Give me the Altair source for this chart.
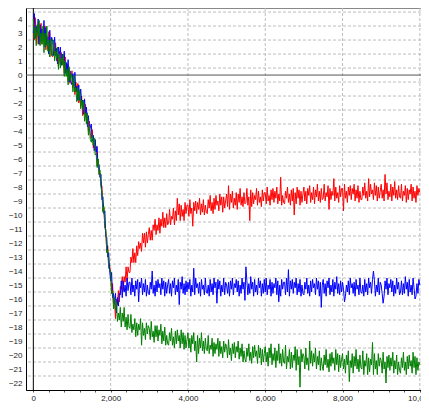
import altair as alt
import pandas as pd

# sample positions (every 25 units)
x_vals = list(range(0, 10001, 25))

red = [
    3.6, 2.5, 4.1, 2.7, 3.3, 2.2, 3.6, 2.7, 3.7, 2.2, 3.2, 2.5, 3.5, 1.8, 2.8, 1.9, 3.1, 1.3, 2.3, 1.4,
    1.3, 2.2, 1.5, 2.3, 1.0, 1.5, 0.6, 1.7, 0.8, 1.6, 0.8, 1.1, 0.1, 1.3, 0.2, 0.8, -0.5, 0.4, -0.6, -0.1,
    0.3, -0.9, -0.4, -1.4, -0.5, -1.2, -0.6, -2.0, -1.5, -2.2, -1.5, -2.9, -2.1, -2.8, -2.1, -3.5, -3.0, -4.0, -3.3, -4.3,
    -4.5, -3.9, -5.2, -4.9, -5.4, -5.1, -6.5, -6.0, -7.1, -7.0, -7.9, -7.9, -9.7, -9.5, -10.9, -11.2, -12.6, -12.2, -13.5, -13.6,
    -14.2, -15.6, -14.9, -16.3, -16.1, -17.4, -16.0, -16.4, -15.4, -16.2, -15.1, -15.3, -14.4, -15.4, -14.4, -14.8, -13.7, -14.7, -13.7, -14.1,
    -14.1, -13.0, -13.4, -12.4, -13.4, -12.7, -13.4, -12.2, -12.9, -11.9, -12.4, -12.0, -12.6, -11.3, -12.0, -11.3, -12.3, -11.2, -12.0, -11.4,
    -10.9, -11.8, -11.1, -11.8, -10.7, -11.1, -10.3, -11.4, -10.7, -11.1, -10.2, -11.3, -10.3, -10.8, -9.8, -10.9, -10.2, -10.9, -9.9, -10.7,
    -10.6, -9.6, -10.7, -10.1, -10.3, -9.5, -10.7, -9.7, -10.4, -8.8, -10.0, -9.2, -10.4, -9.3, -10.1, -9.6, -10.4, -9.1, -9.9, -9.3,
    -9.3, -10.1, -8.9, -9.9, -9.5, -10.8, -9.1, -9.7, -9.0, -9.9, -9.1, -9.6, -8.8, -10.0, -9.2, -9.8, -8.9, -10.0, -9.3, -9.8,
    -9.9, -8.9, -9.5, -8.6, -9.7, -9.1, -9.9, -8.8, -9.6, -8.6, -9.3, -9.0, -9.7, -8.5, -9.3, -8.7, -9.8, -8.7, -9.5, -9.0,
    -8.5, -9.4, -7.9, -9.6, -8.5, -9.1, -8.3, -9.5, -8.8, -9.3, -8.4, -9.6, -8.5, -9.1, -8.1, -9.3, -8.7, -9.4, -8.4, -9.2,
    -9.1, -8.1, -9.3, -8.7, -10.4, -8.2, -9.4, -8.4, -9.2, -8.6, -8.9, -8.1, -9.3, -8.3, -9.1, -8.7, -9.4, -8.2, -9.0, -8.4,
    -8.4, -9.2, -8.0, -9.0, -8.6, -9.3, -8.2, -8.9, -8.1, -9.1, -8.3, -8.8, -8.0, -9.2, -8.5, -9.0, -7.3, -9.3, -8.6, -9.1,
    -9.2, -8.3, -8.8, -8.0, -9.1, -8.5, -9.3, -8.2, -9.0, -8.1, -10.0, -8.4, -9.2, -8.0, -8.8, -8.2, -9.3, -8.3, -9.1, -8.5,
    -8.0, -9.0, -8.3, -9.2, -8.1, -8.6, -7.9, -9.1, -8.4, -8.9, -8.0, -9.2, -8.2, -8.7, -7.8, -9.0, -8.3, -9.1, -8.1, -8.9,
    -8.8, -7.8, -9.0, -8.4, -8.7, -7.9, -9.6, -8.1, -8.9, -8.3, -8.6, -7.4, -9.0, -8.0, -8.8, -8.4, -9.1, -7.9, -8.7, -8.1,
    -8.1, -9.7, -7.8, -8.8, -8.3, -9.1, -8.0, -8.6, -7.9, -8.9, -8.1, -8.5, -7.8, -9.0, -8.2, -8.8, -7.9, -9.1, -8.3, -8.9,
    -8.9, -8.0, -8.6, -7.7, -8.8, -8.3, -9.0, -7.4, -8.7, -7.8, -8.5, -8.2, -8.9, -7.7, -8.6, -7.9, -9.0, -8.0, -8.8, -8.3,
    -7.8, -8.8, -8.2, -9.0, -7.1, -8.5, -7.7, -8.9, -8.3, -8.7, -7.8, -9.0, -8.0, -8.6, -7.6, -8.8, -8.2, -8.9, -7.9, -8.7,
    -8.8, -7.8, -9.0, -8.3, -8.6, -7.9, -9.1, -8.1, -8.9, -8.2, -8.5, -7.8, -9.0, -8.0, -8.8, -8.3, -9.1, -7.9, -8.6, -8.1,
    -8.4,
]

blue = [
    3.0, 4.4, 2.6, 3.5, 3.0, 4.0, 2.2, 3.6, 2.4, 3.3, 2.8, 3.9, 2.0, 3.4, 2.2, 2.7, 1.5, 3.2, 2.0, 2.7,
    2.4, 1.4, 2.7, 1.4, 1.9, 0.8, 2.0, 1.2, 2.0, 0.7, 1.5, 0.9, 1.7, 0.1, 0.9, 0.1, 1.1, -0.5, 0.3, -0.5,
    -0.7, 0.1, -0.7, 0.2, -1.2, -0.8, -1.8, -0.7, -1.8, -1.0, -1.9, -1.8, -2.8, -1.7, -2.9, -2.3, -3.7, -2.9, -4.0, -3.7,
    -3.5, -4.7, -4.3, -5.4, -4.6, -5.5, -5.1, -6.6, -6.4, -7.3, -7.1, -8.9, -8.7, -9.9, -9.7, -11.5, -11.6, -13.0, -12.7, -14.0,
    -14.7, -14.1, -15.9, -15.6, -16.3, -15.6, -17.0, -15.9, -16.5, -15.6, -15.7, -14.7, -15.9, -14.7, -15.5, -15.0, -15.8, -14.5, -15.4, -14.8,
    -14.8, -15.7, -14.5, -15.5, -15.0, -15.8, -14.7, -15.3, -14.6, -16.2, -14.8, -15.2, -14.5, -15.7, -14.9, -15.5, -14.6, -15.8, -15.0, -15.6,
    -15.7, -14.8, -15.3, -14.0, -15.6, -15.0, -15.8, -14.7, -15.5, -14.6, -15.2, -14.9, -15.7, -14.5, -15.3, -14.7, -15.8, -14.8, -15.6, -15.0,
    -14.6, -15.6, -14.9, -15.8, -14.7, -15.2, -14.5, -15.7, -15.0, -15.5, -14.6, -16.4, -14.8, -15.3, -14.4, -15.6, -14.9, -15.7, -14.7, -15.5,
    -14.8, -15.3, -14.6, -15.8, -15.0, -15.5, -13.8, -15.7, -14.5, -15.2, -14.9, -15.6, -14.8, -15.8, -14.6, -15.3, -15.0, -15.7, -14.5, -15.5,
    -15.6, -15.0, -15.8, -14.6, -15.5, -14.9, -15.7, -14.5, -15.2, -14.8, -16.3, -14.6, -15.3, -14.7, -15.8, -15.0, -15.5, -14.5, -15.7, -14.8,
    -15.0, -15.6, -14.8, -15.8, -14.7, -15.3, -14.5, -15.7, -14.9, -15.2, -14.6, -15.5, -14.7, -15.8, -15.0, -15.6, -14.5, -15.3, -14.8, -16.1,
    -13.7, -14.7, -15.7, -14.9, -15.6, -14.4, -15.3, -14.8, -15.8, -14.6, -15.5, -15.0, -15.7, -14.5, -15.2, -14.7, -15.8, -14.9, -15.6, -14.6,
    -15.5, -14.5, -15.7, -15.0, -15.3, -14.6, -15.8, -14.8, -15.6, -14.9, -15.2, -14.5, -15.7, -14.7, -16.2, -15.0, -15.8, -14.6, -15.3, -14.8,
    -14.8, -15.7, -14.5, -15.5, -13.9, -15.8, -14.7, -15.3, -14.6, -15.6, -14.8, -15.2, -14.5, -15.7, -14.9, -15.5, -14.6, -15.8, -15.0, -15.6,
    -15.7, -14.8, -15.3, -14.5, -15.6, -15.0, -15.8, -14.7, -15.5, -14.6, -15.2, -14.9, -15.7, -14.5, -15.3, -14.7, -15.8, -14.8, -16.6, -15.0,
    -14.6, -15.6, -14.9, -15.8, -14.7, -15.2, -14.5, -15.7, -15.0, -15.5, -14.6, -15.8, -14.8, -15.3, -14.4, -15.6, -14.9, -15.7, -14.7, -15.5,
    -14.8, -15.3, -16.2, -15.8, -15.0, -15.5, -14.7, -15.7, -14.5, -15.2, -14.9, -15.6, -14.8, -15.8, -14.6, -15.3, -15.0, -15.7, -14.5, -15.5,
    -15.6, -15.0, -15.8, -14.6, -15.5, -14.9, -15.7, -14.5, -15.2, -14.8, -15.6, -14.6, -14.0, -14.7, -15.8, -15.0, -15.5, -14.5, -15.7, -14.8,
    -15.0, -15.6, -16.3, -15.8, -14.7, -15.3, -14.5, -15.7, -14.9, -15.2, -14.6, -15.5, -14.7, -15.8, -15.0, -15.6, -14.5, -15.3, -14.8, -15.7,
    -15.5, -14.7, -15.7, -14.9, -15.6, -14.4, -15.3, -14.8, -15.8, -14.6, -15.5, -15.0, -15.7, -14.5, -15.2, -16.0, -15.8, -14.9, -15.6, -14.6,
    -15.0,
]

green = [
    4.0, 2.6, 3.4, 2.1, 3.6, 2.8, 3.9, 2.1, 3.0, 2.2, 3.5, 1.6, 3.0, 2.1, 3.5, 1.7, 2.5, 1.3, 2.6, 1.4,
    1.4, 2.5, 1.0, 1.7, 1.2, 2.0, 0.4, 1.5, 0.5, 1.2, 0.7, 1.5, -0.1, 1.0, -0.1, 0.4, -0.7, 0.6, -0.4, 0.1,
    -0.2, -1.2, 0.0, -1.2, -0.9, -1.9, -0.9, -1.8, -1.1, -2.4, -1.8, -2.4, -1.8, -3.3, -2.7, -3.5, -2.7, -4.3, -3.7, -4.6,
    -4.8, -4.3, -5.0, -4.5, -5.7, -5.6, -6.6, -6.0, -7.1, -6.8, -8.0, -8.4, -9.8, -9.4, -10.9, -11.0, -12.7, -12.5, -13.8, -13.9,
    -14.0, -15.6, -15.4, -16.7, -15.9, -16.8, -16.2, -17.6, -17.0, -17.5, -16.6, -18.0, -17.0, -17.6, -16.6, -18.0, -17.3, -18.2, -17.1, -18.0,
    -18.1, -17.1, -18.4, -17.8, -18.2, -17.4, -18.7, -17.7, -18.6, -17.8, -18.2, -17.4, -19.3, -17.7, -18.6, -18.1, -18.9, -17.7, -18.5, -17.9,
    -18.1, -18.9, -17.6, -18.7, -18.3, -19.1, -17.9, -18.7, -17.9, -19.0, -18.2, -18.6, -17.8, -19.2, -18.3, -19.0, -18.0, -19.3, -18.6, -19.2,
    -19.3, -18.4, -19.0, -18.1, -19.3, -18.7, -19.5, -18.3, -19.2, -18.2, -19.0, -18.6, -19.5, -18.2, -19.2, -18.4, -19.6, -18.6, -19.5, -18.9,
    -18.4, -19.5, -18.8, -19.8, -18.6, -19.2, -18.4, -19.7, -19.0, -20.5, -18.6, -19.9, -18.8, -19.5, -18.4, -19.7, -19.0, -19.9, -18.8, -19.6,
    -19.7, -18.6, -19.9, -19.3, -19.6, -18.8, -20.1, -19.1, -19.9, -19.2, -19.6, -18.8, -20.1, -19.0, -19.9, -19.4, -20.2, -19.0, -19.8, -19.2,
    -19.4, -20.2, -18.9, -20.0, -19.5, -20.4, -19.2, -19.9, -19.1, -20.2, -19.4, -19.8, -19.0, -20.3, -19.5, -20.1, -19.2, -20.5, -19.7, -20.3,
    -20.5, -19.5, -20.1, -19.2, -20.4, -19.8, -20.6, -19.4, -20.2, -19.3, -20.1, -19.7, -20.6, -19.3, -20.2, -19.5, -20.7, -19.6, -20.5, -19.9,
    -19.4, -20.5, -19.8, -20.8, -19.5, -20.2, -19.2, -20.7, -19.9, -20.4, -19.5, -20.9, -19.7, -20.4, -19.2, -20.6, -19.9, -20.8, -19.6, -20.5,
    -20.6, -19.3, -21.0, -20.1, -20.5, -19.6, -21.0, -19.8, -20.9, -20.0, -20.4, -19.4, -21.1, -19.6, -20.7, -20.1, -22.3, -19.6, -20.5, -19.9,
    -20.1, -21.0, -19.5, -20.7, -20.2, -21.1, -19.0, -20.6, -19.7, -20.8, -19.9, -20.5, -19.5, -21.0, -20.1, -20.7, -19.7, -21.1, -20.2, -20.8,
    -21.1, -20.0, -20.7, -19.6, -20.9, -20.3, -21.2, -19.9, -20.8, -19.8, -20.6, -20.2, -21.1, -19.6, -20.7, -19.9, -21.2, -20.0, -20.9, -20.3,
    -19.9, -21.0, -20.3, -21.3, -20.0, -20.7, -19.7, -21.9, -20.4, -20.9, -19.9, -21.3, -20.1, -20.8, -19.6, -21.0, -20.3, -21.2, -20.0, -20.9,
    -21.0, -19.7, -21.4, -20.4, -20.8, -19.9, -21.4, -20.2, -21.2, -20.3, -20.7, -19.1, -21.4, -19.9, -21.0, -20.4, -21.4, -19.9, -20.8, -20.2,
    -20.4, -21.3, -19.8, -21.0, -20.5, -22.0, -20.1, -20.9, -20.0, -21.1, -20.2, -20.8, -19.8, -21.3, -20.4, -21.0, -20.0, -21.4, -20.5, -21.1,
    -21.3, -20.2, -20.9, -19.8, -21.1, -20.5, -21.4, -20.1, -21.0, -20.0, -20.8, -20.4, -21.3, -19.8, -20.9, -20.1, -21.4, -20.2, -21.1, -20.5,
    -20.7,
]

assert len(red) == len(blue) == len(green) == len(x_vals), (len(red), len(blue), len(green))

y_labels = list(range(-22, 5))
y_grid = [v + 0.5 for v in range(-22, 5)]
x_grid = [2000, 4000, 6000, 8000, 10000]
x_ticks = list(range(0, 10001, 400))

FONT = "Liberation Sans"
xs = alt.Scale(domain=[-190, 10030], nice=False, zero=False)
ys = alt.Scale(domain=[-22.5, 4.79], nice=False, zero=False)

XAX = alt.Axis(
    values=x_ticks, title=None, grid=False, tickSize=2,
    tickColor="#555", domainColor="#000", labelFont=FONT,
    labelFontSize=8, labelColor="#222", labelPadding=2,
    labelFlush=False, labelOverlap=False,
    labelExpr="datum.value % 2000 === 0 ? format(datum.value, ',') : ''")
YAX = alt.Axis(
    values=y_labels, title=None, grid=False, ticks=False,
    domainColor="#000", labelFont=FONT, labelFontSize=8,
    labelColor="#222", labelPadding=4, labelOverlap=False)

hgrid = alt.Chart(pd.DataFrame({"y": y_grid})).mark_rule(
    color="#bdbdbd", strokeDash=[3, 2], strokeWidth=1
).encode(y=alt.Y("y:Q", scale=ys, axis=YAX))

vgrid = alt.Chart(pd.DataFrame({"x": x_grid})).mark_rule(
    color="#bdbdbd", strokeDash=[3, 2], strokeWidth=1
).encode(x=alt.X("x:Q", scale=xs, axis=XAX))

zero_h = alt.Chart(pd.DataFrame({"y": [0]})).mark_rule(
    color="#555", strokeWidth=1
).encode(y=alt.Y("y:Q", scale=ys, axis=YAX))

zero_v = alt.Chart(pd.DataFrame({"x": [0]})).mark_rule(
    color="#000", strokeWidth=1
).encode(x=alt.X("x:Q", scale=xs, axis=XAX))


def series(vals, col):
    return alt.Chart(pd.DataFrame({"x": x_vals, "y": vals})).mark_line(
        color=col, strokeWidth=1, clip=True
    ).encode(
        x=alt.X("x:Q", scale=xs, axis=XAX),
        y=alt.Y("y:Q", scale=ys, axis=YAX),
    )


chart = alt.layer(
    hgrid, vgrid, zero_h, zero_v,
    series(red, "#ff0000"),
    series(blue, "#0000ff"),
    series(green, "#008000"),
).properties(
    width=395, height=382,
    autosize=alt.AutoSizeParams(type="none"),
    padding={"left": 18, "top": 0, "right": 0, "bottom": 12},
).configure_view(stroke="#888", strokeWidth=1)

chart.save("out.html", embed_options={"renderer": "svg", "actions": False})
